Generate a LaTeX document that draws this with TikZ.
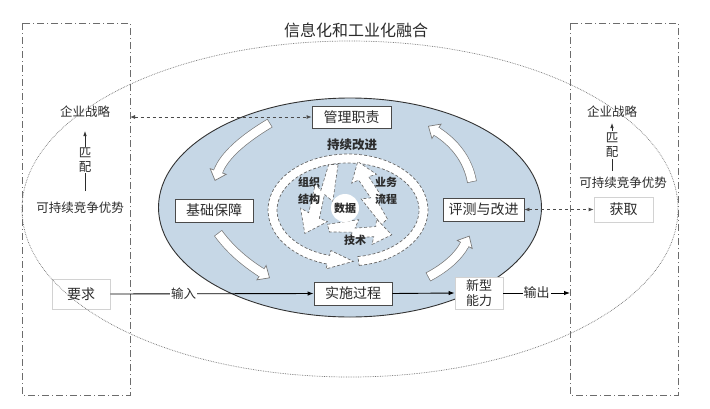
\documentclass[tikz,border=0pt]{standalone}
\usepackage{fontspec}
\setmainfont{Noto Sans CJK SC}
\usetikzlibrary{arrows.meta,decorations.markings}
\definecolor{blueell}{HTML}{C6D7E6}
\definecolor{edge}{HTML}{4A4A4A}
\definecolor{txt}{HTML}{2B2B2B}
\definecolor{aedge}{HTML}{7A7A7A}
\tikzset{
  box/.style={draw=edge, line width=0.8pt, fill=white, inner sep=0pt, text=txt, font=\fontsize{14}{16}\selectfont},
  lbox/.style={draw=gray!35, line width=0.8pt, fill=white, inner sep=0pt, text=txt, font=\fontsize{14}{16}\selectfont},
  side/.style={text=txt, inner sep=1pt, font=\fontsize{12.5}{13.5}\selectfont},
  inner/.style={text=txt, inner sep=0pt, align=center, font=\bfseries\fontsize{11}{17}\selectfont},
  frame/.style={draw=gray!85!black, line width=0.9pt, dash pattern=on 7pt off 3pt on 1pt off 3pt},
  tip/.style={-{Latex[length=6pt,width=4.5pt]}},
  bigarr/.style={
    preaction={draw=aedge, line width=9.8pt},
    preaction={draw=white, line width=8.4pt, shorten <=0.7pt},
    postaction={decorate},
    decoration={markings, mark=at position 0.999 with {
      \draw[aedge, fill=white, line width=0.7pt, line join=miter] (-0.5pt,-8.5pt) -- (9pt,0pt) -- (-0.5pt,8.5pt) -- cycle;
      \fill[white] (-2pt,-4.2pt) rectangle (0.8pt,4.2pt);}}},
  boltpic/.pic={\draw[densely dashed, draw=gray!80!black, fill=white, line width=0.6pt]
     (0,-4) -- (33,-12.5) -- (30,-3) -- (52,-7) -- (52,-15) -- (70,0) -- (50,12.5) -- (51,4) -- (24,8.5) -- (28,1.5) -- (3,4) -- cycle;}
}
\begin{document}
\begin{tikzpicture}[x=1pt,y=-1pt]
\fill[white] (0,0) rectangle (710,408);
\useasboundingbox (0,0) rectangle (710,408);

% side frames
\draw[frame] (22,23) rectangle (130,395);
\draw[frame] (570,23) rectangle (678,395);

% title
\node[text=txt, font=\fontsize{16}{18}\selectfont] (title) at (356,30) {信息化和工业化融合};

% blue ellipse
\draw[fill=blueell, draw=black!80, line width=0.9pt] (350,207.5) ellipse [x radius=191.5, y radius=109.5];

% big curved arrows
\path[bigarr] (270,123) .. controls (245,138) and (224,155) .. (218,172);
\path[bigarr] (218,233) .. controls (232,252) and (248,264) .. (262,273);
\path[bigarr] (428,277) .. controls (445,268) and (458,257) .. (465,244);
\path[bigarr] (472,182) .. controls (468,160) and (455,143) .. (436,131);

% continuous improvement ring
\begin{scope}[shift={(348,210)}]
\draw[densely dashed, draw=gray!80!black, fill=white, line width=0.7pt]
  (82:80 and 56) arc[start angle=82, end angle=-255, x radius=80, y radius=56]
  -- (-255:85 and 61) -- (-274:75.5 and 51.5) -- (-255:66 and 42)
  -- (-255:71 and 47) arc[start angle=-255, end angle=82, x radius=71, y radius=47] -- cycle;
\end{scope}
\node[text=txt, inner sep=0pt, font=\bfseries\fontsize{12.5}{14}\selectfont] (cx) at (352,145) {持续改进};

% lightning arrows
\pic[rotate=-112.5, scale=1.09] at (334,163) {boltpic};
\pic[rotate=113.9, scale=0.96] at (385,223) {boltpic};
\pic[rotate=-6, scale=0.93] at (327,228) {boltpic};

% data circle
\node[circle, fill=white, minimum size=28pt, inner sep=0pt, text=txt, font=\bfseries\fontsize{11}{12}\selectfont] (sj) at (345,208) {数据};
\node[inner] (zz) at (309,191) {组织\\结构};
\node[inner] (yw) at (386,191) {业务\\流程};
\node[inner] (js) at (355,240) {技术};

% boxes
\node[box, minimum width=79pt, minimum height=22pt] (gl) at (351.5,117) {管理职责};
\node[box, minimum width=78pt, minimum height=23pt] (jc) at (214,210.5) {基础保障};
\node[box, minimum width=81pt, minimum height=23pt] (pc) at (483.5,209.5) {评测与改进};
\node[box, minimum width=78pt, minimum height=23pt] (ss) at (353,293.5) {实施过程};
\node[lbox, minimum width=48pt, minimum height=32pt, align=center, font=\fontsize{13}{15}\selectfont] (xx) at (479,293) {新型\\能力};
\node[lbox, minimum width=58pt, minimum height=30pt] (yq) at (81,294) {要求};
\node[lbox, minimum width=59pt, minimum height=25pt] (hq) at (623.5,209.5) {获取};

% side texts
\node[side] (qyL) at (85,112) {企业战略};
\node[side] (kcL) at (80,208) {可持续竞争优势};
\node[side] (qyR) at (612,112) {企业战略};
\node[side] (kcR) at (623,183) {可持续竞争优势};

\draw[txt, line width=0.7pt, -{Latex[length=5pt,width=3.5pt]}, shorten <=10pt, shorten >=12pt] (kcL.north -| qyL.south) -- (qyL.south);
\node[side, fill=white, align=center] (ppL) at (85,160) {匹\\配};
\draw[txt, line width=0.7pt, -{Latex[length=5pt,width=3.5pt]}, shorten <=5pt, shorten >=4pt] (kcR.north -| qyR.south) -- (qyR.south);
\node[side, fill=white, align=center, font=\fontsize{12.5}{14.5}\selectfont] (ppR) at (612,145) {匹\\配};

% connectors
\coordinate (lr) at (130,117);
\coordinate (rr) at (570,293);
\draw[edge, line width=0.8pt, dashed, {Latex[length=5pt,width=4pt]}-{Latex[length=5pt,width=4pt]}] (lr) -- (gl.west);
\draw[edge, line width=0.8pt, dashed, {Latex[length=5pt,width=4pt]}-{Latex[length=5pt,width=4pt]}] (pc.east) -- (hq.west);
\draw[black, line width=0.9pt, tip] (yq.east) -- node[pos=0.36, fill=white, inner sep=1pt, text=txt, font=\fontsize{12.5}{14}\selectfont] {输入} (ss.west);
\draw[black, line width=0.9pt, tip] (ss.east) -- (xx.west);
\draw[black, line width=0.9pt, tip] (xx.east) -- node[pos=0.5, fill=white, inner sep=1pt, text=txt, font=\fontsize{13}{14}\selectfont] {输出} (rr);

% big dotted ellipse
\draw[gray!90!black, line width=0.7pt, densely dotted] (350,209) ellipse [x radius=328, y radius=168];
\end{tikzpicture}
\end{document}
